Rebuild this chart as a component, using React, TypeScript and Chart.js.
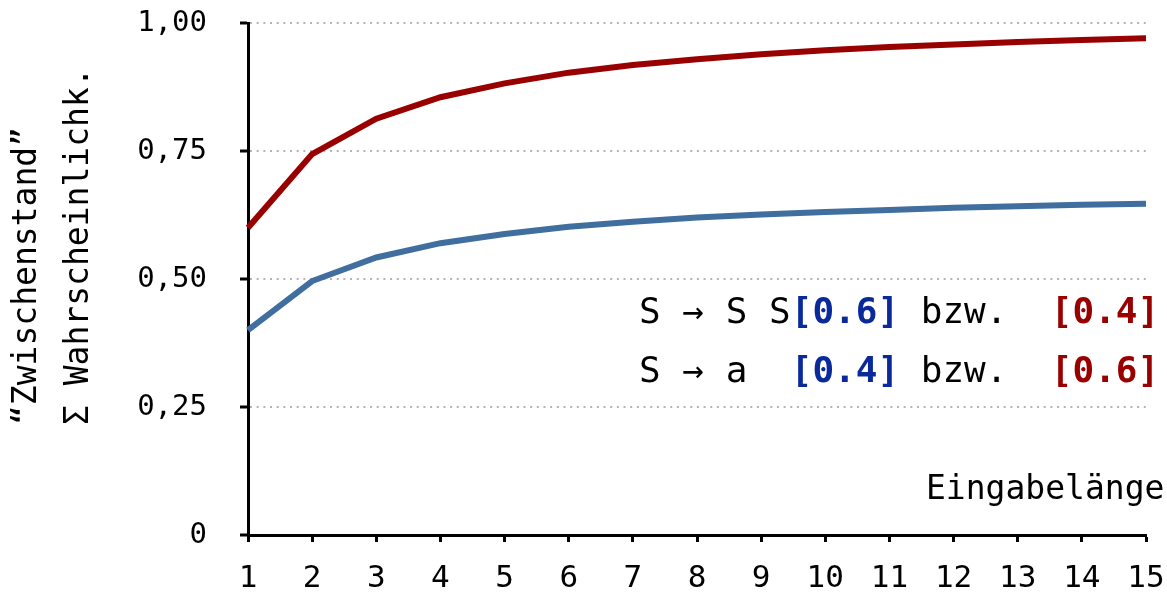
import { useEffect, useRef } from 'react';
import { Chart, registerables } from 'chart.js';

Chart.register(...registerables);

const inputLengths = ['1', '2', '3', '4', '5', '6', '7', '8', '9', '10', '11', '12', '13', '14', '15'];
const sumBlue = [0.400, 0.496, 0.542, 0.570, 0.588, 0.602, 0.612, 0.620, 0.626, 0.631, 0.635, 0.639, 0.642, 0.645, 0.647];
const sumRed = [0.600, 0.744, 0.813, 0.855, 0.882, 0.903, 0.918, 0.929, 0.939, 0.947, 0.953, 0.958, 0.963, 0.967, 0.970];
const yTickValues = [0, 0.25, 0.5, 0.75, 1];
const yTickLabels = ['0', '0,25', '0,50', '0,75', '1,00'];
const yTitleLines = ['“Zwischenstand”', 'Σ Wahrscheinlichk.'];
const xTitle = 'Eingabelänge';
const ruleLine1 = ['S → S S', '[0.6]', ' bzw.  ', '[0.4]'];
const ruleLine2 = ['S → a  ', '[0.4]', ' bzw.  ', '[0.6]'];

const RED = '#990000';
const BLUE = '#3f6e9f';
const TEXT_BLUE = '#0a2a9c';
const MONO = '"DejaVu Sans Mono", monospace';

const textPlugin = {
  id: 'textPlugin',
  afterDraw(chart: any) {
    const ctx = chart.ctx as CanvasRenderingContext2D;
    ctx.save();
    ctx.fillStyle = '#000';
    ctx.font = `33px ${MONO}`;
    ctx.textAlign = 'left';
    ctx.textBaseline = 'alphabetic';
    const baselinesX = [36, 88];
    yTitleLines.forEach((line, i) => {
      ctx.save();
      ctx.translate(baselinesX[i], 425);
      ctx.rotate(-Math.PI / 2);
      ctx.fillText(line, 0, 0);
      ctx.restore();
    });
    ctx.font = `33px ${MONO}`;
    ctx.fillText(xTitle, 926, 499);
    const drawRule = (parts: string[], y: number) => {
      let x = 639;
      parts.forEach((p, i) => {
        const bracket = i === 1 || i === 3;
        ctx.font = `${bracket ? 'bold ' : ''}36px ${MONO}`;
        ctx.fillStyle = i === 1 ? TEXT_BLUE : i === 3 ? RED : '#000';
        ctx.fillText(p, x, y);
        x += ctx.measureText(p).width;
      });
    };
    drawRule(ruleLine1, 323);
    drawRule(ruleLine2, 382);
    ctx.restore();
  },
};

export default function App() {
  const ref = useRef<HTMLCanvasElement | null>(null);
  useEffect(() => {
    document.body.style.margin = '0';
    const canvas = ref.current!;
    const chart = new Chart(canvas, {
      type: 'line',
      data: {
        labels: inputLengths,
        datasets: [
          { data: sumRed, borderColor: RED, borderWidth: 6, pointRadius: 0, tension: 0, fill: false },
          { data: sumBlue, borderColor: BLUE, borderWidth: 6, pointRadius: 0, tension: 0, fill: false },
        ],
      },
      options: {
        animation: false,
        responsive: false,
        devicePixelRatio: 1,
        layout: { padding: { top: 23, right: 21, left: 0, bottom: 0 } },
        plugins: { legend: { display: false }, tooltip: { enabled: false } },
        scales: {
          x: {
            type: 'category',
            offset: false,
            grid: {
              drawOnChartArea: false,
              drawTicks: true,
              tickLength: 7,
              tickWidth: 3,
              tickColor: '#000',
            },
            border: { color: '#000', width: 3 },
            ticks: {
              color: '#000',
              font: { family: MONO, size: 31 },
              padding: 18,
              maxRotation: 0,
              autoSkip: false,
            },
            afterFit(scale: any) {
              scale.height = 60;
              scale.paddingLeft = 0;
              scale.paddingRight = 0;
            },
          },
          y: {
            min: 0,
            max: 1,
            afterBuildTicks(scale: any) {
              scale.ticks = yTickValues.map((v) => ({ value: v }));
            },
            grid: {
              color: (c: any) => (c.tick && c.tick.value === 0 ? 'rgba(0,0,0,0)' : '#b4b4b4'),
              lineWidth: 2,
              drawTicks: true,
              tickLength: 8,
              tickWidth: 3,
              tickColor: '#000',
              tickBorderDash: [],
            },
            border: { color: '#000', width: 3, dash: [2, 4.67] },
            ticks: {
              color: '#000',
              font: { family: MONO, size: 29 },
              padding: 33,
              callback: (v: any) => {
                const idx = yTickValues.indexOf(Number(v));
                return idx >= 0 ? yTickLabels[idx] : '';
              },
            },
            afterFit(scale: any) {
              scale.width = 248;
              scale.paddingTop = 0;
              scale.paddingBottom = 0;
            },
          },
        },
      },
      plugins: [textPlugin],
    });
    return () => chart.destroy();
  }, []);
  return (
    <div style={{ width: 1167, height: 595 }}>
      <canvas ref={ref} width={1167} height={595} style={{ display: 'block' }} />
    </div>
  );
}
